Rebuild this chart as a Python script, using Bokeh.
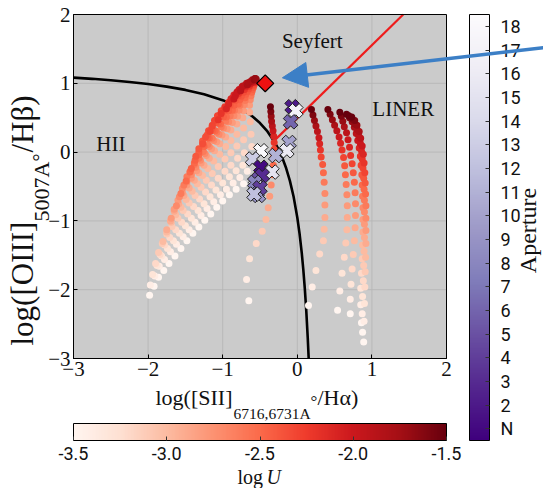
from math import pi

from bokeh.plotting import figure
from bokeh.models import (ColumnDataSource, LinearColorMapper, ColorBar, FixedTicker,
                          Label, Arrow, NormalHead, Range1d, AllLabels)
from bokeh.palettes import Reds256, Purples256
from bokeh.core.properties import value
from bokeh.embed import file_html
from bokeh.resources import INLINE

# ---------------------------------------------------------------- axes
plot_lim = (-3, 2)
axis_ticks = [-3, -2, -1, 0, 1, 2]
axis_tick_labels = ["\u22123", "\u22122", "\u22121", "0", "1", "2"]
grid_ticks = [-2, -1, 0, 1]

# ---------------------------------------------------------------- demarcation lines
kewley_x = [-3.0, -2.75, -2.5, -2.25, -2.0, -1.75, -1.5, -1.25, -1.0, -0.9, -0.8, -0.7,
            -0.6, -0.5, -0.4, -0.3, -0.25, -0.2, -0.15, -0.1, -0.05, 0.0, 0.03, 0.06,
            0.08, 0.10, 0.12, 0.14, 0.1526]
kewley_y = [1.083, 1.065, 1.045, 1.020, 0.990, 0.952, 0.904, 0.841, 0.755, 0.710, 0.657,
            0.594, 0.517, 0.422, 0.300, 0.139, 0.037, -0.085, -0.232, -0.414, -0.646,
            -0.950, -1.183, -1.469, -1.700, -1.973, -2.300, -2.700, -3.000]
seyfert_liner_x = [-0.315, 1.42]
seyfert_liner_y = [0.16, 2.00]

# ---------------------------------------------------------------- star-forming model grid
# one row per ionisation parameter, running across the metallicity sequence
fan_logu = [-3.5, -3.4, -3.3, -3.2, -3.1, -3.0, -2.9, -2.8, -2.7, -2.6, -2.5,
            -2.45, -2.4, -2.35, -2.3, -2.2, -2.1, -2.0, -1.9, -1.8, -1.7]
fan_rows_x = [
    [-1.98, -1.92, -1.86, -1.79, -1.72, -1.64, -1.56, -1.48, -1.40, -1.32, -1.24, -1.16, -1.08, -1.00, -0.91, -0.82, -0.72],
    [-1.97, -1.91, -1.85, -1.78, -1.70, -1.62, -1.53, -1.45, -1.37, -1.29, -1.21, -1.12, -1.03, -0.95, -0.86, -0.77, -0.67],
    [-1.94, -1.88, -1.82, -1.74, -1.66, -1.58, -1.50, -1.42, -1.33, -1.25, -1.17, -1.09, -1.00, -0.91, -0.82, -0.73, -0.63],
    [-1.90, -1.84, -1.78, -1.71, -1.63, -1.55, -1.47, -1.39, -1.31, -1.23, -1.15, -1.06, -0.97, -0.89, -0.80, -0.71, -0.61],
    [-1.86, -1.81, -1.75, -1.68, -1.60, -1.53, -1.45, -1.37, -1.29, -1.22, -1.14, -1.06, -0.97, -0.89, -0.81, -0.72, -0.62],
    [-1.80, -1.75, -1.69, -1.63, -1.56, -1.49, -1.41, -1.34, -1.27, -1.20, -1.12, -1.04, -0.96, -0.89, -0.81, -0.72, -0.63],
    [-1.75, -1.70, -1.65, -1.59, -1.52, -1.45, -1.38, -1.32, -1.25, -1.18, -1.11, -1.04, -0.96, -0.89, -0.81, -0.73, -0.64],
    [-1.69, -1.65, -1.60, -1.54, -1.48, -1.42, -1.35, -1.29, -1.22, -1.15, -1.08, -1.01, -0.94, -0.87, -0.80, -0.72, -0.64],
    [-1.62, -1.58, -1.54, -1.48, -1.42, -1.36, -1.30, -1.24, -1.18, -1.12, -1.05, -0.99, -0.92, -0.85, -0.78, -0.71, -0.63],
    [-1.56, -1.52, -1.48, -1.43, -1.38, -1.32, -1.26, -1.20, -1.14, -1.08, -1.02, -0.96, -0.90, -0.84, -0.77, -0.70, -0.62],
    [-1.49, -1.44, -1.38, -1.32, -1.25, -1.18, -1.10, -1.03, -0.95, -0.87, -0.79, -0.70, -0.61],
    [-1.42, -1.37, -1.32, -1.26, -1.20, -1.13, -1.06, -0.99, -0.92, -0.85, -0.77, -0.69, -0.60],
    [-1.36, -1.32, -1.27, -1.21, -1.15, -1.09, -1.03, -0.97, -0.90, -0.83, -0.75, -0.67, -0.59],
    [-1.27, -1.23, -1.19, -1.14, -1.09, -1.03, -0.97, -0.92, -0.86, -0.79, -0.72, -0.65, -0.58],
    [-1.17, -1.14, -1.11, -1.07, -1.02, -0.97, -0.92, -0.88, -0.83, -0.77, -0.71, -0.65, -0.58],
    [-1.06, -1.02, -0.97, -0.92, -0.86, -0.79, -0.71, -0.64, -0.57],
    [-0.95, -0.92, -0.89, -0.85, -0.80, -0.75, -0.69, -0.63, -0.57],
    [-0.85, -0.83, -0.81, -0.78, -0.74, -0.70, -0.65, -0.61, -0.56],
    [-0.76, -0.73, -0.68, -0.62, -0.56],
    [-0.67, -0.65, -0.62, -0.60, -0.56],
    [-0.58, -0.57, -0.57, -0.56, -0.55],
]
fan_rows_y = [
    [-2.08, -1.95, -1.82, -1.72, -1.62, -1.51, -1.40, -1.29, -1.18, -1.09, -0.99, -0.90, -0.80, -0.71, -0.62, -0.54, -0.46],
    [-1.93, -1.80, -1.66, -1.56, -1.45, -1.34, -1.23, -1.13, -1.02, -0.92, -0.82, -0.72, -0.62, -0.54, -0.45, -0.37, -0.28],
    [-1.78, -1.65, -1.51, -1.40, -1.29, -1.18, -1.07, -0.96, -0.85, -0.75, -0.65, -0.55, -0.45, -0.36, -0.27, -0.19, -0.10],
    [-1.62, -1.49, -1.35, -1.24, -1.13, -1.02, -0.90, -0.79, -0.68, -0.58, -0.48, -0.38, -0.28, -0.19, -0.09, -0.01, 0.08],
    [-1.46, -1.33, -1.19, -1.08, -0.96, -0.85, -0.74, -0.63, -0.51, -0.41, -0.31, -0.21, -0.10, -0.01, 0.09, 0.18, 0.26],
    [-1.30, -1.16, -1.02, -0.91, -0.80, -0.69, -0.57, -0.46, -0.34, -0.24, -0.13, -0.03, 0.08, 0.17, 0.26, 0.35, 0.44],
    [-1.13, -1.00, -0.86, -0.75, -0.63, -0.52, -0.41, -0.30, -0.19, -0.09, 0.02, 0.12, 0.22, 0.32, 0.41, 0.50, 0.58],
    [-0.96, -0.83, -0.70, -0.59, -0.48, -0.38, -0.27, -0.16, -0.05, 0.05, 0.15, 0.25, 0.34, 0.43, 0.52, 0.60, 0.68],
    [-0.78, -0.65, -0.53, -0.43, -0.33, -0.22, -0.12, -0.02, 0.08, 0.17, 0.26, 0.35, 0.44, 0.53, 0.61, 0.69, 0.76],
    [-0.60, -0.48, -0.36, -0.27, -0.18, -0.09, 0.01, 0.11, 0.20, 0.29, 0.37, 0.45, 0.53, 0.61, 0.68, 0.75, 0.82],
    [-0.42, -0.29, -0.16, -0.04, 0.08, 0.20, 0.31, 0.41, 0.51, 0.61, 0.70, 0.79, 0.87],
    [-0.24, -0.12, 0.00, 0.11, 0.21, 0.32, 0.42, 0.51, 0.60, 0.68, 0.76, 0.84, 0.91],
    [-0.06, 0.05, 0.16, 0.25, 0.34, 0.43, 0.52, 0.60, 0.68, 0.75, 0.81, 0.88, 0.94],
    [0.12, 0.22, 0.31, 0.39, 0.47, 0.55, 0.62, 0.69, 0.76, 0.82, 0.87, 0.92, 0.97],
    [0.30, 0.38, 0.46, 0.53, 0.60, 0.66, 0.72, 0.78, 0.83, 0.87, 0.91, 0.95, 0.99],
    [0.47, 0.56, 0.65, 0.72, 0.79, 0.85, 0.91, 0.96, 1.01],
    [0.63, 0.70, 0.77, 0.83, 0.88, 0.92, 0.95, 0.99, 1.02],
    [0.77, 0.82, 0.87, 0.91, 0.95, 0.97, 0.99, 1.01, 1.03],
    [0.89, 0.96, 1.00, 1.03, 1.04],
    [0.98, 1.01, 1.03, 1.05, 1.05],
    [1.05, 1.06, 1.07, 1.07, 1.06],
]

# ---------------------------------------------------------------- AGN / LINER model tracks
# every track runs from log U = -1.5 (top) down to log U = -3.5 (bottom)
track_logu = [-1.5, -1.6, -1.7, -1.8, -1.9, -2.0, -2.1, -2.2, -2.3, -2.4, -2.5,
              -2.6, -2.7, -2.8, -2.9, -3.0, -3.1, -3.2, -3.3, -3.4, -3.5]
track_a_x = [-0.36, -0.355, -0.35, -0.345, -0.335, -0.325, -0.315, -0.31, -0.31, -0.315, -0.32,
             -0.33, -0.35, -0.37, -0.39, -0.42, -0.47, -0.55, -0.64, -0.68, -0.65]
track_a_y = [0.66, 0.59, 0.52, 0.45, 0.38, 0.31, 0.23, 0.14, 0.04, -0.07, -0.19,
             -0.33, -0.48, -0.64, -0.81, -0.98, -1.15, -1.33, -1.55, -1.85, -2.16]
track_b_x = [0.19, 0.21, 0.23, 0.25, 0.27, 0.29, 0.30, 0.31, 0.32, 0.34, 0.35,
             0.36, 0.37, 0.37, 0.37, 0.36, 0.35, 0.30, 0.25, 0.20, 0.15]
track_b_y = [0.62, 0.54, 0.46, 0.38, 0.30, 0.21, 0.12, 0.03, -0.07, -0.18, -0.30,
             -0.44, -0.60, -0.77, -0.95, -1.12, -1.29, -1.48, -1.72, -1.96, -2.23]
track_c_x = [0.41, 0.44, 0.47, 0.50, 0.53, 0.56, 0.58, 0.60, 0.62, 0.635, 0.645,
             0.655, 0.665, 0.67, 0.67, 0.665, 0.65, 0.63, 0.60, 0.57, 0.54]
track_c_y = [0.62, 0.55, 0.47, 0.39, 0.31, 0.22, 0.13, 0.03, -0.08, -0.20, -0.33,
             -0.47, -0.62, -0.78, -0.95, -1.13, -1.32, -1.53, -1.76, -2.02, -2.30]
track_d1_x = [0.57, 0.59, 0.61, 0.63, 0.66, 0.68, 0.70, 0.715, 0.735, 0.75, 0.765,
              0.775, 0.78, 0.78, 0.775, 0.765, 0.75, 0.735, 0.72, 0.71, 0.71]
track_d1_y = [0.58, 0.52, 0.45, 0.37, 0.28, 0.18, 0.07, -0.05, -0.17, -0.30, -0.44,
              -0.59, -0.75, -0.92, -1.10, -1.29, -1.49, -1.70, -1.92, -2.14, -2.35]
track_d2_x = [0.66, 0.70, 0.735, 0.765, 0.79, 0.81, 0.83, 0.845, 0.855, 0.865, 0.87,
              0.875, 0.88, 0.88, 0.88, 0.875, 0.87, 0.86, 0.85, 0.85, 0.86]
track_d2_y = [0.55, 0.50, 0.44, 0.36, 0.27, 0.17, 0.06, -0.06, -0.19, -0.33, -0.48,
              -0.64, -0.81, -0.98, -1.16, -1.35, -1.55, -1.76, -1.98, -2.22, -2.48]
track_d3_x = [0.69, 0.735, 0.77, 0.80, 0.825, 0.845, 0.86, 0.87, 0.88, 0.89, 0.895,
              0.90, 0.90, 0.90, 0.90, 0.895, 0.89, 0.885, 0.875, 0.87, 0.875]
track_d3_y = [0.53, 0.48, 0.41, 0.33, 0.23, 0.13, 0.02, -0.10, -0.23, -0.38, -0.54,
              -0.70, -0.87, -1.05, -1.24, -1.44, -1.65, -1.87, -2.10, -2.35, -2.62]
track_d4_x = [0.73, 0.77, 0.80, 0.83, 0.85, 0.87, 0.885, 0.895, 0.905, 0.91, 0.915,
              0.92, 0.92, 0.92, 0.92, 0.915, 0.91, 0.905, 0.90, 0.895, 0.89]
track_d4_y = [0.51, 0.46, 0.39, 0.30, 0.20, 0.09, -0.03, -0.16, -0.30, -0.45, -0.61,
              -0.78, -0.96, -1.14, -1.33, -1.53, -1.74, -1.96, -2.20, -2.46, -2.76]

# ---------------------------------------------------------------- observed apertures
aperture_x = [-0.07, -0.02, -0.09, -0.11, -0.14, -0.49, -0.60, -0.29, -0.49,
              -0.34, -0.52, -0.47, -0.56, -0.54, -0.52, -0.57, -0.50, -0.58]
aperture_y = [0.66, 0.60, 0.44, 0.14, 0.02, 0.02, -0.10, -0.05, -0.22,
              -0.29, -0.39, -0.34, -0.49, -0.58, -0.63, -0.44, -0.52, -0.61]
aperture_id = [2, 17, 6, 10, 16, 18, 13, 11, 1, 15, 5, 3, 14, 7, 9, 8, 4, 12]
aperture_ticks = list(range(1, 19))
aperture_labels = ["N"] + [str(i) for i in range(2, 19)]

nucleus_x = [-0.43]
nucleus_y = [1.00]

region_names = ["Seyfert", "LINER", "HII"]
region_x = [0.20, 1.42, -2.50]
region_y = [1.62, 0.63, 0.125]

logu_ticks = [-3.5, -3.0, -2.5, -2.0, -1.5]
logu_labels = ["-3.5", "-3.0", "-2.5", "-2.0", "-1.5"]

# ---------------------------------------------------------------- canvas
# The frame spans the whole 543 x 488 canvas; the diagram itself occupies
# x,y in [-3, 2] (pixels 73..446 x 14..358), the rest holds titles and colour bars.
W, H = 543, 488
X_PX = 74.6          # pixels per dex, horizontal
Y_PX = 68.8          # pixels per dex, vertical
SERIF = "Liberation Serif"
INK = "#111111"

x_range = Range1d(plot_lim[0] - 73 / X_PX, plot_lim[1] + (W - 446) / X_PX)
y_range = Range1d(plot_lim[0] - (H - 358) / Y_PX, plot_lim[1] + 14 / Y_PX)

p = figure(width=W, height=H, x_range=x_range, y_range=y_range,
           output_backend="svg", toolbar_location=None, title=None,
           min_border=0, min_border_left=0, min_border_right=0,
           min_border_top=0, min_border_bottom=0,
           background_fill_color="white", border_fill_color="white")
p.outline_line_color = None
p.xgrid.visible = False
p.ygrid.visible = False

for ax in (p.xaxis[0], p.yaxis[0]):
    ax.fixed_location = plot_lim[0]
    ax.bounds = plot_lim
    ax.ticker = FixedTicker(ticks=axis_ticks)
    ax.major_label_overrides = dict(zip(axis_ticks, axis_tick_labels))
    ax.major_label_text_font = SERIF
    ax.major_label_text_font_size = "21px"
    ax.major_label_text_color = INK
    ax.major_tick_in = 4
    ax.major_tick_out = 0
    ax.minor_tick_line_color = None
    ax.axis_line_color = "black"
    ax.major_label_standoff = 3

# diagram area and grid
p.quad(left=[plot_lim[0]], right=[plot_lim[1]], bottom=[plot_lim[0]], top=[plot_lim[1]],
       fill_color="#cbcbcb", line_color=None)
p.segment(x0=grid_ticks, x1=grid_ticks, y0=[plot_lim[0]] * 4, y1=[plot_lim[1]] * 4,
          line_color="#b4b4b4", line_width=0.8)
p.segment(x0=[plot_lim[0]] * 4, x1=[plot_lim[1]] * 4, y0=grid_ticks, y1=grid_ticks,
          line_color="#b4b4b4", line_width=0.8)

u_mapper = LinearColorMapper(palette=list(reversed(Reds256)), low=-3.5, high=-1.5)
ap_mapper = LinearColorMapper(palette=Purples256, low=0.5, high=18.5)

# demarcation curves
p.line(kewley_x, kewley_y, line_color="black", line_width=2.6)
p.line(seyfert_liner_x, seyfert_liner_y, line_color="#ee1c1c", line_width=2.2)

# model grids
fan_x, fan_y, fan_u = [], [], []
for xs, ys, u in zip(fan_rows_x, fan_rows_y, fan_logu):
    fan_x += xs
    fan_y += ys
    fan_u += [u] * len(xs)
p.scatter("x", "y", source=ColumnDataSource(dict(x=fan_x, y=fan_y, u=fan_u)), size=7,
          fill_color={"field": "u", "transform": u_mapper}, line_color=None)

for xs, ys in [(track_a_x, track_a_y), (track_b_x, track_b_y), (track_c_x, track_c_y),
               (track_d1_x, track_d1_y), (track_d2_x, track_d2_y),
               (track_d3_x, track_d3_y), (track_d4_x, track_d4_y)]:
    src = ColumnDataSource(dict(x=xs[::-1], y=ys[::-1], u=track_logu[::-1]))
    p.scatter("x", "y", source=src, size=7,
              fill_color={"field": "u", "transform": u_mapper}, line_color=None)

# apertures and nucleus
p.scatter("x", "y", source=ColumnDataSource(dict(x=aperture_x, y=aperture_y, a=aperture_id)),
          marker="plus", angle=pi / 4, size=15,
          fill_color={"field": "a", "transform": ap_mapper},
          line_color="#222222", line_width=1)
p.scatter(nucleus_x, nucleus_y, marker="square", angle=pi / 4, size=12,
          fill_color="#ee1111", line_color="black", line_width=1.2)

p.text(region_x, region_y, text=region_names, text_font=value(SERIF),
       text_font_size="21px", text_color=INK, text_align="center",
       text_baseline="middle")

# diagram border
p.quad(left=[plot_lim[0]], right=[plot_lim[1]], bottom=[plot_lim[0]], top=[plot_lim[1]],
       fill_color=None, line_color="black", line_width=1)

# colour bars
cb_u = ColorBar(color_mapper=u_mapper, orientation="horizontal", location=(73, 26),
                width=373, height=17, padding=0,
                ticker=FixedTicker(ticks=logu_ticks),
                major_label_overrides=dict(zip(logu_ticks, logu_labels)),
                major_label_policy=AllLabels(),
                major_label_text_font="Roboto", major_label_text_font_size="18px",
                major_label_text_color=INK, label_standoff=6,
                major_tick_in=4, major_tick_out=0, major_tick_line_color="#333333",
                minor_tick_line_color=None, bar_line_color="black",
                background_fill_alpha=0, border_line_color=None)
p.add_layout(cb_u)

cb_ap = ColorBar(color_mapper=ap_mapper, orientation="vertical", location=(469, 48),
                 width=20, height=426, padding=0,
                 ticker=FixedTicker(ticks=aperture_ticks),
                 major_label_overrides=dict(zip(aperture_ticks, aperture_labels)),
                 major_label_policy=AllLabels(),
                 major_label_text_font="Roboto", major_label_text_font_size="18px",
                 major_label_text_color=INK, label_standoff=11,
                 major_tick_in=4, major_tick_out=0, major_tick_line_color="#333333",
                 minor_tick_line_color=None, bar_line_color="black",
                 background_fill_alpha=0, border_line_color=None)
p.add_layout(cb_ap)


def screen_label(text, x, y, size, angle=0.0, style="normal", align="left"):
    """Place text centred vertically on canvas pixel (x, y), y measured from the top."""
    p.add_layout(Label(x=x, y=H - y, x_units="screen", y_units="screen", text=text,
                       angle=angle, text_font=SERIF, text_font_size=size,
                       text_font_style=style, text_color=INK, text_align=align,
                       text_baseline="middle"))


# x-axis title: log([SII]_6716,6731A / Ha)
screen_label("log([SII]", 155, 396.5, "22px")
screen_label("6716,6731A", 233, 412.5, "15.5px")
screen_label("\u00b0", 310, 401, "17px")
screen_label("/H\u03b1)", 317, 396.5, "22px")

# y-axis title: log([OIII]_5007A / Hb), read bottom to top
screen_label("log([OIII]", 22, 345, "31px", angle=pi / 2)
screen_label("5007A", 41, 221, "22px", angle=pi / 2)
screen_label("\u00b0", 39, 161, "20px", angle=pi / 2)
screen_label("/H\u03b2)", 22, 152, "31px", angle=pi / 2)

# colour bar titles
screen_label("Aperture", 527, 230, "24px", angle=pi / 2, align="center")
screen_label("log", 237, 476, "20px")
screen_label("U", 266, 476, "20px", style="italic")

# pointer to the nucleus
arrow_blue = "#3c7fc6"
p.add_layout(Arrow(end=NormalHead(size=25, fill_color=arrow_blue, line_color=arrow_blue),
                   x_start=3.4, y_start=1.53, x_end=-0.2, y_end=1.08,
                   line_color=arrow_blue, line_width=3.5))

open("out.html", "w").write(file_html(p, INLINE))
